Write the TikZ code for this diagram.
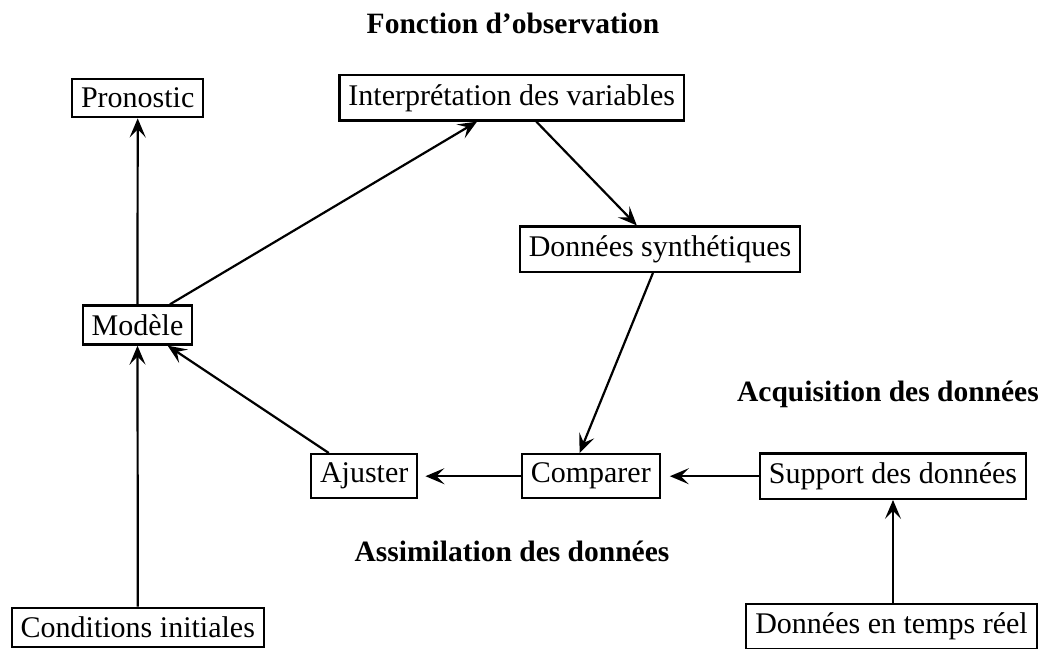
\documentclass[tikz,border=0pt]{standalone}
\usepackage{fontspec}
\setmainfont{Liberation Serif}
\usetikzlibrary{arrows.meta,calc}
\tikzset{
  >={Stealth[length=19pt,width=16pt,inset=8pt]},
  box/.style={draw,line width=2.2pt,inner xsep=9pt,inner ysep=9pt,font=\fontsize{30}{35}\selectfont},
  ttl/.style={font=\fontsize{29.5}{35}\selectfont\bfseries,anchor=base},
  arr/.style={line width=2.2pt,->}
}
\begin{document}
\begin{tikzpicture}[x=1pt,y=-1pt]
\useasboundingbox (0,0) rectangle (1044,648);
\node[ttl] (t1) at (513,33.3) {Fonction d’observation};
\node[ttl] (t2) at (888,401.7) {Acquisition des données};
\node[ttl] (t3) at (512,561.7) {Assimilation des données};
\node[box] (pron) at (137.7,98.2) {Pronostic};
\node[box] (interp) at (511.7,97.9) {Interprétation des variables};
\node[box] (mod) at (137.5,325) {Modèle};
\node[box] (ds) at (660,249.2) {Données synthétiques};
\node[box] (aj) at (364.2,476.2) {Ajuster};
\node[box] (comp) at (590.8,476.2) {Comparer};
\node[box] (sup) at (893,476.2) {Support des données};
\node[box] (cond) at (137.8,627.2) {Conditions initiales};
\node[box] (dtr) at (891.5,626.5) {Données en temps réel};
\draw[arr] (mod.north) -- (pron.south);
\draw[arr] ($(mod.north west)!0.79!(mod.north east)$) -- ($(interp.south west)!0.40!(interp.south east)$);
\draw[arr] ($(interp.south west)!0.571!(interp.south east)$) -- ($(ds.north west)!0.418!(ds.north east)$);
\draw[arr] ($(ds.south west)!0.475!(ds.south east)$) -- ($(comp.north west)!0.42!(comp.north east)$);
\draw[arr,shorten >=7pt] (comp.west) -- (aj.east);
\draw[arr,shorten >=9pt] (sup.west) -- (comp.east);
\draw[arr] ($(aj.north west)!0.174!(aj.north east)$) -- ($(mod.south west)!0.77!(mod.south east)$);
\draw[arr] (cond.north) -- (mod.south);
\draw[arr] (dtr.north -| sup.south) -- (sup.south);
\end{tikzpicture}
\end{document}
